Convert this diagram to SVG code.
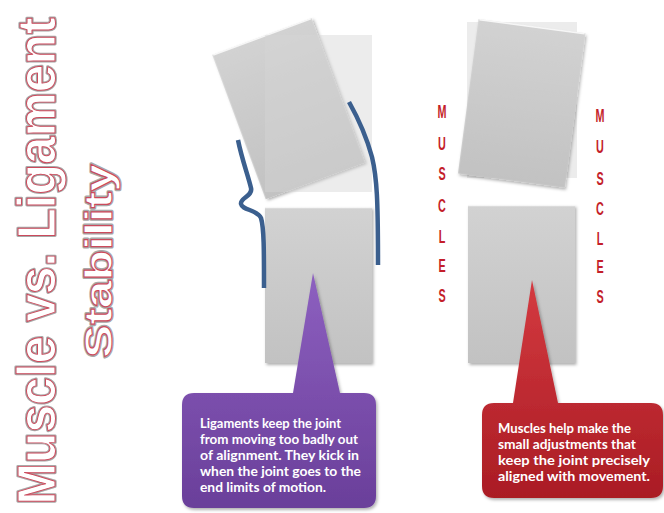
<svg xmlns="http://www.w3.org/2000/svg" width="664" height="513" viewBox="0 0 664 513">
<style>
.title{font-family:"Liberation Sans",Arial,sans-serif;font-weight:bold;text-anchor:middle}
.t-back{fill:#ffffff;stroke:#a8a8a8;stroke-width:3.2;stroke-linejoin:round}
.t-front{fill:#ffffff;stroke:#cc4a5c;stroke-width:1;stroke-linejoin:round}
.bone{fill:url(#boneGrad);filter:url(#shadow)}
.ghost{fill:#d4d4d4;opacity:0.45}
.lig{fill:none;stroke:#3b5f8e;stroke-width:4.5;stroke-linecap:butt;stroke-linejoin:round}
.mus{font-family:"Liberation Sans","DejaVu Sans",sans-serif;font-weight:bold;font-size:18px;fill:#c41e2a;text-anchor:middle}
.cap{font-family:Lato,"Open Sans",sans-serif;font-weight:bold;font-size:12.5px;fill:#ffffff}
</style>
<defs>
<linearGradient id="boneGrad" x1="0" y1="0" x2="0" y2="1">
<stop offset="0" stop-color="#d2d2d2"/>
<stop offset="1" stop-color="#c2c2c2"/>
</linearGradient>
<linearGradient id="purpleGrad" x1="0" y1="0" x2="0" y2="1">
<stop offset="0" stop-color="#8d60c0"/>
<stop offset="1" stop-color="#6a3f9a"/>
</linearGradient>
<linearGradient id="redGrad" x1="0" y1="0" x2="0" y2="1">
<stop offset="0" stop-color="#d43a40"/>
<stop offset="1" stop-color="#aa1c24"/>
</linearGradient>
<filter id="shadow" x="-20%" y="-20%" width="140%" height="140%">
<feDropShadow dx="1.5" dy="2" stdDeviation="1.5" flood-color="#000" flood-opacity="0.3"/>
</filter>
</defs>

<g id="title">
<g transform="translate(55,261) rotate(-90)">
<text class="title t-back" font-size="54" textLength="487" lengthAdjust="spacingAndGlyphs">Muscle vs. Ligament</text>
<text class="title t-front" font-size="54" textLength="487" lengthAdjust="spacingAndGlyphs">Muscle vs. Ligament</text>
</g>
<g transform="translate(112,261) rotate(-90)">
<text class="title t-back" font-size="39" textLength="194" lengthAdjust="spacingAndGlyphs">Stability</text>
<text class="title t-front" font-size="39" textLength="194" lengthAdjust="spacingAndGlyphs">Stability</text>
</g>
</g>

<g id="left-upper-bone">
<rect class="bone" x="-52.75" y="-77" width="105.5" height="154" transform="translate(288.6,108.7) rotate(-20.3)"/>
<line x1="-52" y1="-76.5" x2="52" y2="-76.5" stroke="#ffffff" stroke-width="1.5" opacity="0.8" transform="translate(288.6,108.7) rotate(-20.3)"/>
<rect class="ghost" x="265" y="35" width="107" height="157"/>
</g>
<g id="left-lower-bone">
<rect class="bone" x="265" y="207" width="107" height="156"/>
<line x1="265" y1="207.5" x2="372" y2="207.5" stroke="#ffffff" stroke-width="1.5" opacity="0.8"/>
</g>

<g id="ligaments">
<path class="lig" d="M238,140 C242,160 248,175 251,188 C253,196 240,198 241,204 C242,210 258,210 261,218 C264,228 264,250 264,288"/>
<path class="lig" d="M349,102 C358,118 366,135 372,157 C377,178 378,200 378,265"/>
</g>

<g id="right-upper-bone">
<rect class="ghost" x="467" y="22" width="110" height="156" opacity="0.18"/>
<rect class="bone" x="-53.8" y="-77.8" width="107.6" height="155.6" transform="translate(521.7,103.4) rotate(7.6)"/>
<line x1="-53" y1="-77.3" x2="53" y2="-77.3" stroke="#ffffff" stroke-width="1.5" opacity="0.8" transform="translate(521.7,103.4) rotate(7.6)"/>
</g>
<g id="right-lower-bone">
<rect class="bone" x="468" y="205" width="107" height="158"/>
<line x1="468" y1="205.5" x2="575" y2="205.5" stroke="#ffffff" stroke-width="1.5" opacity="0.8"/>
</g>

<g id="muscles-left" transform="translate(442,0) scale(0.6,1)">
<text class="mus" x="0" y="118">M</text>
<text class="mus" x="0" y="150">U</text>
<text class="mus" x="0" y="180">S</text>
<text class="mus" x="0" y="212">C</text>
<text class="mus" x="0" y="243">L</text>
<text class="mus" x="0" y="272">E</text>
<text class="mus" x="0" y="302">S</text>
</g>
<g id="muscles-right" transform="translate(600,0) scale(0.6,1)">
<text class="mus" x="0" y="122">M</text>
<text class="mus" x="0" y="153">U</text>
<text class="mus" x="0" y="185">S</text>
<text class="mus" x="0" y="215">C</text>
<text class="mus" x="0" y="245">L</text>
<text class="mus" x="0" y="273">E</text>
<text class="mus" x="0" y="303">S</text>
</g>

<g id="ligament-callout">
<path d="M194,393 L293,393 L313,273 L340,393 L364,393 Q376,393 376,405 L376,496 Q376,508 364,508 L194,508 Q182,508 182,496 L182,405 Q182,393 194,393 Z" fill="url(#purpleGrad)" filter="url(#shadow)"/>
<text class="cap" x="200" y="428" textLength="141" lengthAdjust="spacingAndGlyphs">Ligaments keep the joint</text>
<text class="cap" x="200" y="444" textLength="158" lengthAdjust="spacingAndGlyphs">from moving too badly out</text>
<text class="cap" x="200" y="460" textLength="159" lengthAdjust="spacingAndGlyphs">of alignment. They kick in</text>
<text class="cap" x="200" y="476" textLength="161" lengthAdjust="spacingAndGlyphs">when the joint goes to the</text>
<text class="cap" x="200" y="492" textLength="126" lengthAdjust="spacingAndGlyphs">end limits of motion.</text>
</g>

<g id="muscle-callout">
<path d="M494,403 L513,403 L532,280 L558,403 L651,403 Q663,403 663,415 L663,486 Q663,498 651,498 L494,498 Q482,498 482,486 L482,415 Q482,403 494,403 Z" fill="url(#redGrad)" filter="url(#shadow)"/>
<text class="cap" x="498" y="433" textLength="133" lengthAdjust="spacingAndGlyphs">Muscles help make the</text>
<text class="cap" x="498" y="449" textLength="138" lengthAdjust="spacingAndGlyphs">small adjustments that</text>
<text class="cap" x="498" y="465" textLength="152" lengthAdjust="spacingAndGlyphs">keep the joint precisely</text>
<text class="cap" x="498" y="481" textLength="152" lengthAdjust="spacingAndGlyphs">aligned with movement.</text>
</g>
</svg>
